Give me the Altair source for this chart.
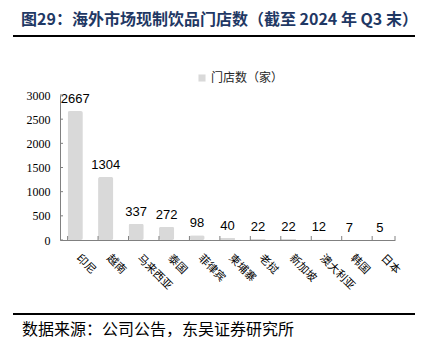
import altair as alt
import pandas as pd

categories = ["印尼", "越南", "马来西亚", "泰国", "菲律宾", "柬埔寨", "老挝", "新加坡", "澳大利亚", "韩国", "日本"]
stores = [2667, 1304, 337, 272, 98, 40, 22, 22, 12, 7, 5]
series_name = "门店数（家）"
y_ticks = [0, 500, 1000, 1500, 2000, 2500, 3000]
title_text = "图29：海外市场现制饮品门店数（截至 2024 年 Q3 末）"
source_text = "数据来源：公司公告，东吴证券研究所"

W, H = 335, 145
CJK = "Noto Sans CJK SC"

df = pd.DataFrame({"cat": categories, "val": stores, "series": [series_name] * len(categories)})

xaxis = alt.Axis(title=None, labelAngle=45, labelAlign="left", labelBaseline="top",
                 labelFont=CJK, labelFontSize=11, labelColor="#000000",
                 labelPadding=12, labelOffset=7, ticks=False, domainColor="#808080",
                 domainWidth=1, labelOverlap=False)
yaxis = alt.Axis(title=None, values=y_ticks, grid=False, ticks=False, format="d",
                 labelOverlap=False, labelFlush=False,
                 labelFont="Liberation Serif", labelFontSize=12, labelColor="#000000",
                 labelPadding=10, domainColor="#808080")
xscale = alt.Scale(paddingInner=0.5, paddingOuter=0.25)
yscale = alt.Scale(domain=[0, 3000])

bars = alt.Chart(df).mark_bar(cornerRadius=2).encode(
    x=alt.X("cat:N", sort=categories, scale=xscale, axis=xaxis),
    y=alt.Y("val:Q", scale=yscale, axis=yaxis),
    color=alt.Color("series:N", scale=alt.Scale(range=["#D9D9D9"]),
                    legend=alt.Legend(title=None, orient="none", legendX=136, legendY=-23,
                                      symbolType="square", symbolSize=50, symbolStrokeWidth=0,
                                      labelFont=CJK, labelFontSize=12, labelColor="#262626",
                                      labelOffset=3)),
)

labels = alt.Chart(df).mark_text(baseline="alphabetic", dy=-8, font="Liberation Sans",
                                 fontSize=13, color="#000000").encode(
    x=alt.X("cat:N", sort=categories, scale=xscale, axis=xaxis),
    y=alt.Y("val:Q", scale=yscale, axis=yaxis),
    text="val:Q",
)

xticks = alt.Chart(df).mark_rule(color="#808080").encode(
    x=alt.X("cat:N", sort=categories, bandPosition=0, scale=xscale, axis=xaxis),
    y=alt.value(H - 4), y2=alt.value(H),
)
xtick_end = alt.Chart(pd.DataFrame({"k": [1]})).mark_rule(color="#808080").encode(
    x=alt.value(W), y=alt.value(H - 4), y2=alt.value(H),
)
yticks = alt.Chart(pd.DataFrame({"t": y_ticks})).mark_rule(color="#808080").encode(
    y=alt.Y("t:Q", scale=yscale, axis=yaxis), x=alt.value(0), x2=alt.value(3),
)

title = alt.Chart(pd.DataFrame({"t": [title_text]})).mark_text(
    align="left", baseline="middle", font=CJK, fontSize=16, fontWeight="bold",
    color="#1F3864").encode(text="t:N", x=alt.value(-39), y=alt.value(-75))
rule_top = alt.Chart(pd.DataFrame({"k": [1]})).mark_rule(color="#000000", strokeWidth=2).encode(
    x=alt.value(-47), x2=alt.value(355), y=alt.value(-59))
rule_bot = alt.Chart(pd.DataFrame({"k": [1]})).mark_rule(color="#000000", strokeWidth=2).encode(
    x=alt.value(-47), x2=alt.value(355), y=alt.value(219))
source = alt.Chart(pd.DataFrame({"t": [source_text]})).mark_text(
    align="left", baseline="middle", font=CJK, fontSize=16, color="#000000").encode(
    text="t:N", x=alt.value(-38), y=alt.value(235))

chart = alt.layer(bars, labels, xticks, xtick_end, yticks, title, rule_top, rule_bot, source).properties(
    width=W, height=H,
    autosize=alt.AutoSizeParams(type="none"),
    padding={"left": 60, "top": 95, "right": 30, "bottom": 113},
    background="#FFFFFF",
).configure_view(stroke=None)

chart.save("out.html", embed_options={"renderer": "svg", "actions": False})
